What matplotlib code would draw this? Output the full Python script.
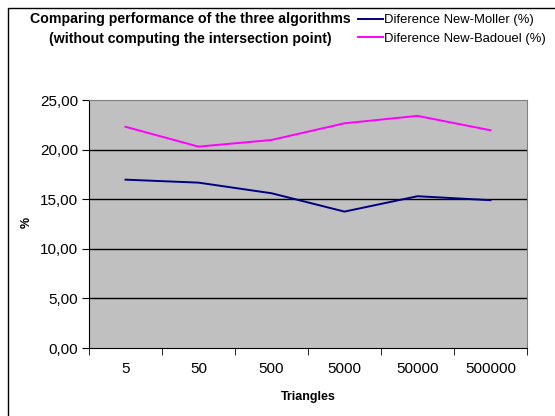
import matplotlib
matplotlib.use("Agg")
import matplotlib.pyplot as plt
from matplotlib.patches import Rectangle
from matplotlib.lines import Line2D

categories = ["5", "50", "500", "5000", "50000", "500000"]
moller = [16.97, 16.67, 15.6, 13.75, 15.3, 14.9]
badouel = [22.3, 20.3, 20.97, 22.65, 23.4, 21.95]
yticks = [0, 5, 10, 15, 20, 25]
ytick_labels = ["0,00", "5,00", "10,00", "15,00", "20,00", "25,00"]

plt.rcParams['font.family'] = ['Liberation Sans', 'DejaVu Sans']

W, H = 555, 416
fig = plt.figure(figsize=(W/100, H/100), dpi=100)
fig.patch.set_facecolor("white")

# outer frame
fig.add_artist(Rectangle((8/W, -0.1), 1.2, (H-8)/H + 0.1, transform=fig.transFigure,
                         fill=False, edgecolor="black", linewidth=1))

L, R, T, B = 89, 527, 100, 348
ax = fig.add_axes([L/W, 1-B/H, (R-L)/W, (B-T)/H])
ax.set_facecolor("#c0c0c0")
x = list(range(len(categories)))
ax.plot(x, moller, color="#000080", lw=1.4, label="Diference New-Moller (%)")
ax.plot(x, badouel, color="#ff00ff", lw=1.4, label="Diference New-Badouel (%)")

ax.set_xlim(-0.5, len(categories)-0.5)
ax.set_ylim(0, 25)
ax.set_yticks(yticks)
ax.set_yticklabels(ytick_labels, fontsize=11)
ax.set_xticks(x)
ax.set_xticklabels(categories, fontsize=11)
ax.tick_params(axis='x', length=0, pad=10)
ax.set_xticks([i - 0.5 for i in range(len(categories)+1)], minor=True)
ax.tick_params(axis='x', which='minor', length=5, direction='out', color='black')
ax.tick_params(axis='y', length=5, direction='out', color='black', pad=3)
for yv in yticks[1:-1]:
    ax.axhline(yv, color="black", lw=1, zorder=1)
for s in ["top", "right"]:
    ax.spines[s].set_color("#808080")
for s in ["left", "bottom"]:
    ax.spines[s].set_color("black")

ax.set_xlabel("Triangles", fontsize=9, fontweight="bold")
ax.xaxis.set_label_coords(0.5, -(397-B)/(B-T))
ax.xaxis.label.set_va("center")
ax.set_ylabel("%", fontsize=9, fontweight="bold")
ax.yaxis.set_label_coords(-(L-27)/(R-L), (B-222)/(B-T))
ax.yaxis.label.set_va("center")

fig.text(190/W, 1-29/H, "Comparing performance of the three algorithms\n(without computing the intersection point)",
         ha="center", va="center", fontsize=10.2, fontweight="bold", linespacing=1.6)

handles = [Line2D([0], [0], color="#000080", lw=1.4), Line2D([0], [0], color="#ff00ff", lw=1.4)]
fig.legend(handles, ["Diference New-Moller (%)", "Diference New-Badouel (%)"],
           loc="upper left", bbox_to_anchor=(353/W, 1-9/H), frameon=False, fontsize=9.4,
           handlelength=1.9, handletextpad=0.1, labelspacing=0.5, borderaxespad=0)

fig.savefig("out.png", dpi=100)
